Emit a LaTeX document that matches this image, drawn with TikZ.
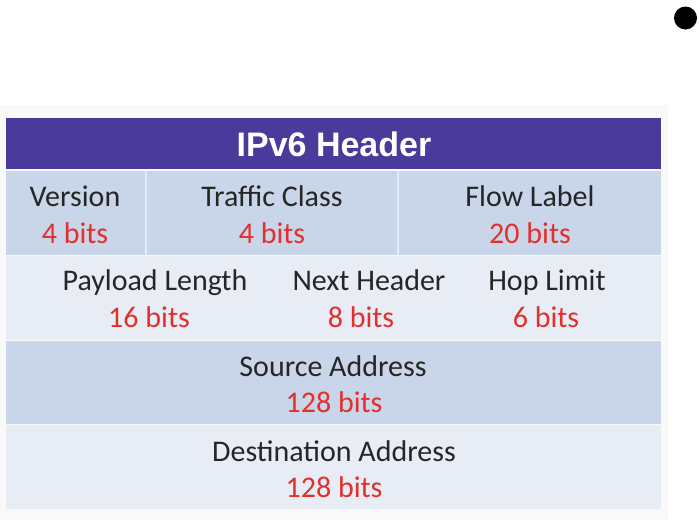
\documentclass[tikz,border=0pt]{standalone}
\usepackage{fontspec}
\setmainfont{Carlito}
\newfontfamily\titlefont{Liberation Sans}
\definecolor{hdrpurple}{HTML}{4A3A9B}
\definecolor{banddark}{HTML}{C9D5E8}
\definecolor{bandlight}{HTML}{E7ECF5}
\definecolor{panelbg}{HTML}{F9F9F9}
\definecolor{bitsred}{HTML}{E2302C}
\definecolor{nametext}{HTML}{262626}
\definecolor{sepcol}{HTML}{E4EAF4}
\begin{document}
\begin{tikzpicture}[x=1pt,y=-1pt,
  fname/.style={anchor=base,inner sep=0pt,text=nametext,font=\fontsize{30}{36}\selectfont},
  fbits/.style={anchor=base,inner sep=0pt,text=bitsred,font=\fontsize{30}{36}\selectfont},
  sepline/.style={draw=sepcol,line width=1.2pt}]
\useasboundingbox (0,0) rectangle (699,520);
\fill[white] (0,0) rectangle (699,520);
\fill[panelbg] (0,105) rectangle (668,520);
% bands
\fill[hdrpurple] (6,118) rectangle (661,169);
\fill[banddark] (6,171) rectangle (661,255);
\fill[bandlight] (6,256) rectangle (661,340);
\fill[banddark] (6,341) rectangle (661,424);
\fill[bandlight] (6,425) rectangle (661,509);
\draw[sepline] (146,171) -- (146,255);
\draw[sepline] (398,171) -- (398,255);
% title
\node[anchor=base,inner sep=0pt,text=white,font=\titlefont\bfseries\fontsize{34}{40}\selectfont] (title) at (334,156) {IPv6 Header};
% row 1
\node[fname] (ver) at (75,206) {Version};
\node[fbits] (verb) at (75,243) {4 bits};
\node[fname] (tc) at (272,206) {Traffic Class};
\node[fbits] (tcb) at (272,243) {4 bits};
\node[fname] (fl) at (530,206) {Flow Label};
\node[fbits] (flb) at (530,243) {20 bits};
% row 2
\node[fname] (pl) at (155,290) {Payload Length};
\node[fbits] (plb) at (149,327) {16 bits};
\node[fname] (nh) at (369,290) {Next Header};
\node[fbits] (nhb) at (361,327) {8 bits};
\node[fname] (hl) at (547,290) {Hop Limit};
\node[fbits] (hlb) at (546,327) {6 bits};
% row 3
\node[fname] (src) at (333,376) {Source Address};
\node[fbits] (srcb) at (334,412) {128 bits};
% row 4
\node[fname] (dst) at (334,461) {Destination Address};
\node[fbits] (dstb) at (334,497) {128 bits};
% bullet dot
\fill[black] (685.5,18) circle (11.5);
\end{tikzpicture}
\end{document}
